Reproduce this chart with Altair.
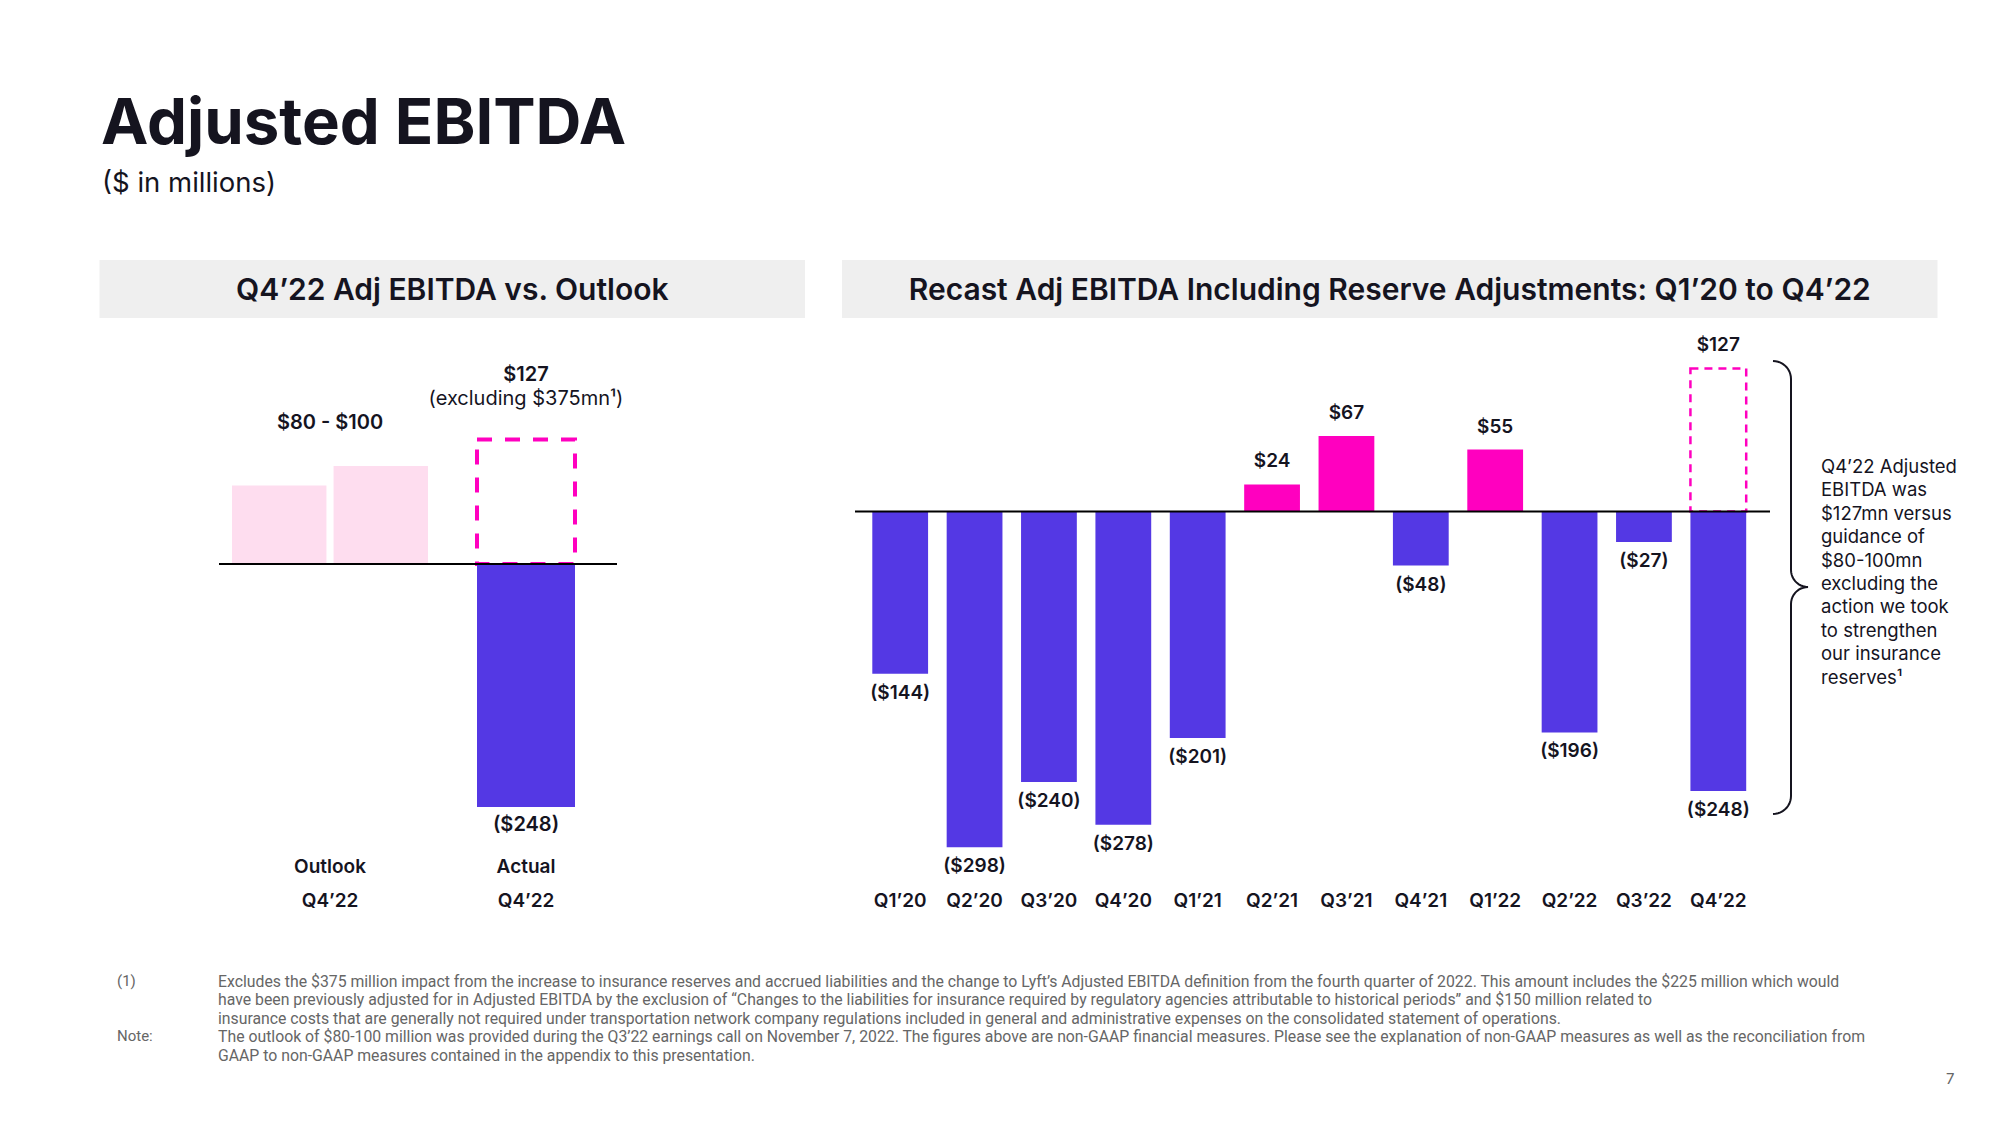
import altair as alt
import pandas as pd
import numpy as np

# ---------------- data ----------------
quarters = ["Q1’20", "Q2’20", "Q3’20", "Q4’20", "Q1’21", "Q2’21",
            "Q3’21", "Q4’21", "Q1’22", "Q2’22", "Q3’22", "Q4’22"]
recast_values = [-144, -298, -240, -278, -201, 24, 67, -48, 55, -196, -27, -248]
q4_excluding_value = 127

outlook_groups = ["Outlook", "Actual"]
outlook_periods = ["Q4’22", "Q4’22"]
outlook_parts = ["low", "high"]
outlook_values = [80, 100]
actual_value = -248
actual_excluding_value = 127

annotation_lines = ["Q4’22 Adjusted", "EBITDA was", "$127mn versus", "guidance of",
                    "$80-100mn", "excluding the", "action we took", "to strengthen",
                    "our insurance", "reserves¹"]

footnote_lines = [
    "Excludes the $375 million impact from the increase to insurance reserves and accrued liabilities and the change to Lyft’s Adjusted EBITDA definition from the fourth quarter of 2022. This amount includes the $225 million which would",
    "have been previously adjusted for in Adjusted EBITDA by the exclusion of “Changes to the liabilities for insurance required by regulatory agencies attributable to historical periods” and $150 million related to",
    "insurance costs that are generally not required under transportation network company regulations included in general and administrative expenses on the consolidated statement of operations.",
    "The outlook of $80-100 million was provided during the Q3’22 earnings call on November 7, 2022. The figures above are non-GAAP financial measures. Please see the explanation of non-GAAP measures as well as the reconciliation from",
    "GAAP to non-GAAP measures contained in the appendix to this presentation.",
]

# ---------------- style ----------------
PURPLE = "#5438E4"
MAGENTA = "#FF00BF"
PINK = "#FEDDEF"
HEADER = "#EFEFEF"
INK = "#15141F"
NOTE = "#666666"
FONT = "Inter"


def money(v):
    return f"${v}" if v >= 0 else f"(${-v})"


one = pd.DataFrame({"k": [0]})

# ---------------- scales ----------------
def rx(field="quarter"):
    return alt.X(f"{field}:N", sort=quarters,
                 scale=alt.Scale(domain=quarters, range=[855, 1747.5],
                                 paddingInner=0.25, paddingOuter=0.125), axis=None)


RY_SCALE = alt.Scale(domain=[-300, 130], range=[841.6, 357], zero=False, nice=False)


def ry(field="value"):
    return alt.Y(f"{field}:Q", scale=RY_SCALE, axis=None)


def lx(field="group"):
    return alt.X(f"{field}:N", sort=outlook_groups,
                 scale=alt.Scale(domain=outlook_groups, range=[224, 616],
                                 paddingInner=0, paddingOuter=0), axis=None)


LY_SCALE = alt.Scale(domain=[-260, 140], range=[810.8, 418.8], zero=False, nice=False)


def ly(field="value"):
    return alt.Y(f"{field}:Q", scale=LY_SCALE, axis=None)


layers = []

# ---------------- headings ----------------
layers.append(alt.Chart(one).mark_text(font=FONT, fontSize=63.5, fontWeight="bold", color=INK,
                                       align="left", baseline="alphabetic").encode(
    x=alt.value(93), y=alt.value(136), text=alt.value("Adjusted EBITDA")))
layers.append(alt.Chart(one).mark_text(font=FONT, fontSize=27.5, color=INK,
                                       align="left", baseline="alphabetic").encode(
    x=alt.value(94), y=alt.value(184), text=alt.value("($ in millions)")))

for x0, x1, title in [(91.5, 797, "Q4’22 Adj EBITDA vs. Outlook"),
                      (834, 1929.5, "Recast Adj EBITDA Including Reserve Adjustments: Q1’20 to Q4’22")]:
    layers.append(alt.Chart(one).mark_rect(color=HEADER).encode(
        x=alt.value(x0), x2=alt.value(x1), y=alt.value(252), y2=alt.value(310)))
    layers.append(alt.Chart(one).mark_text(font=FONT, fontSize=30, fontWeight=600, color=INK,
                                           align="center", baseline="middle").encode(
        x=alt.value((x0 + x1) / 2), y=alt.value(283), text=alt.value(title)))

# ---------------- left panel ----------------
outlook_df = pd.DataFrame({"group": "Outlook", "part": outlook_parts, "value": outlook_values})
layers.append(alt.Chart(outlook_df).mark_bar(color=PINK).encode(
    x=lx(), y=ly(), y2=alt.datum(0),
    xOffset=alt.XOffset("part:N", sort=outlook_parts,
                        scale=alt.Scale(domain=outlook_parts, paddingInner=0.07, paddingOuter=0))))

dashed_left = pd.DataFrame({"group": ["Actual"], "value": [actual_excluding_value]})
layers.append(alt.Chart(dashed_left).mark_bar(fillOpacity=0, stroke=MAGENTA, strokeWidth=4,
                                             strokeDash=[15, 13], width=alt.RelativeBandSize(0.5)).encode(
    x=lx(), y=ly(), y2=alt.datum(0)))

actual_df = pd.DataFrame({"group": ["Actual"], "value": [actual_value]})
layers.append(alt.Chart(actual_df).mark_bar(color=PURPLE, width=alt.RelativeBandSize(0.5)).encode(
    x=lx(), y=ly(), y2=alt.datum(0)))

layers.append(alt.Chart(one).mark_rule(color="black", strokeWidth=2).encode(
    x=alt.value(211), x2=alt.value(609), y=alt.YDatum(0, scale=LY_SCALE, axis=None)))

range_df = pd.DataFrame({"group": ["Outlook"], "value": [max(outlook_values)],
                         "label": [f"${outlook_values[0]} - ${outlook_values[1]}"]})
layers.append(alt.Chart(range_df).mark_text(font=FONT, fontSize=20, fontWeight=600, color=INK,
                                           baseline="middle", dy=-43).encode(
    x=lx(), y=ly(), text="label:N"))

exc_df = pd.DataFrame({"group": ["Actual"], "value": [actual_excluding_value],
                       "label": [money(actual_excluding_value)]})
layers.append(alt.Chart(exc_df).mark_text(font=FONT, fontSize=20, fontWeight=600, color=INK,
                                         baseline="middle", dy=-65).encode(
    x=lx(), y=ly(), text="label:N"))
layers.append(alt.Chart(exc_df).mark_text(font=FONT, fontSize=20, color=INK,
                                         baseline="middle", dy=-41).encode(
    x=lx(), y=ly(), text=alt.value("(excluding $375mn¹)")))

act_lbl = pd.DataFrame({"group": ["Actual"], "value": [actual_value], "label": [money(actual_value)]})
layers.append(alt.Chart(act_lbl).mark_text(font=FONT, fontSize=20, fontWeight=600, color=INK,
                                          baseline="middle", dy=18).encode(
    x=lx(), y=ly(), text="label:N"))

cat_df = pd.DataFrame({"group": outlook_groups, "period": outlook_periods})
layers.append(alt.Chart(cat_df).mark_text(font=FONT, fontSize=19, fontWeight=600, color=INK,
                                         baseline="middle").encode(
    x=lx(), y=alt.value(859), text="group:N"))
layers.append(alt.Chart(cat_df).mark_text(font=FONT, fontSize=19, fontWeight=600, color=INK,
                                         baseline="middle").encode(
    x=lx(), y=alt.value(892.5), text="period:N"))

# ---------------- right panel ----------------
right_df = pd.DataFrame({"quarter": quarters, "value": recast_values})
right_df["color"] = np.where(right_df["value"] > 0, MAGENTA, PURPLE)
right_df["label"] = [money(v) for v in recast_values]

dashed_right = pd.DataFrame({"quarter": [quarters[-1]], "value": [q4_excluding_value],
                             "label": [money(q4_excluding_value)]})
layers.append(alt.Chart(dashed_right).mark_bar(fillOpacity=0, stroke=MAGENTA, strokeWidth=2.5,
                                              strokeDash=[8, 6]).encode(
    x=rx(), y=ry(), y2=alt.datum(0)))

layers.append(alt.Chart(right_df).mark_bar().encode(
    x=rx(), y=ry(), y2=alt.datum(0), color=alt.Color("color:N", scale=None)))

layers.append(alt.Chart(one).mark_rule(color="black", strokeWidth=2).encode(
    x=alt.value(847), x2=alt.value(1762), y=alt.YDatum(0, scale=RY_SCALE, axis=None)))

pos_df = pd.concat([right_df[right_df["value"] > 0], dashed_right])
neg_df = right_df[right_df["value"] < 0]
layers.append(alt.Chart(pos_df).mark_text(font=FONT, fontSize=19, fontWeight=600, color=INK,
                                         baseline="middle", dy=-23).encode(
    x=rx(), y=ry(), text="label:N"))
layers.append(alt.Chart(neg_df).mark_text(font=FONT, fontSize=19, fontWeight=600, color=INK,
                                         baseline="middle", dy=19).encode(
    x=rx(), y=ry(), text="label:N"))

layers.append(alt.Chart(right_df).mark_text(font=FONT, fontSize=19, fontWeight=600, color=INK,
                                           baseline="middle").encode(
    x=rx(), y=alt.value(892.5), text="quarter:N"))

# brace (decoration)
def arc(cx, cy, r, a0, a1, n=12):
    t = np.radians(np.linspace(a0, a1, n))
    return list(cx + r * np.cos(t)), list(cy + r * np.sin(t))

bx, by = [], []
for seg in [arc(1765, 371, 18, -90, 0), arc(1800, 562, 17, 180, 90),
            arc(1800, 596, 17, 270, 180), arc(1765, 788, 18, 0, 90)]:
    bx += seg[0]
    by += seg[1]
brace = pd.DataFrame({"bx": bx, "by": by, "i": range(len(bx))})
layers.append(alt.Chart(brace).mark_line(color=INK, strokeWidth=2).encode(
    x=alt.X("bx:Q", scale=None, axis=None), y=alt.Y("by:Q", scale=None, axis=None),
    order="i:Q"))

layers.append(alt.Chart(one).mark_text(font=FONT, fontSize=18.5, color=INK, align="left",
                                      baseline="top", lineHeight=23.4).encode(
    x=alt.value(1813), y=alt.value(450), text=alt.value(annotation_lines)))

# ---------------- footnotes ----------------
layers.append(alt.Chart(one).mark_text(font="Roboto", fontSize=15, color=NOTE, align="left",
                                      baseline="middle").encode(
    x=alt.value(109), y=alt.value(973), text=alt.value("(1)")))
layers.append(alt.Chart(one).mark_text(font="Roboto", fontSize=15, color=NOTE, align="left",
                                      baseline="middle").encode(
    x=alt.value(109), y=alt.value(1028), text=alt.value("Note:")))
layers.append(alt.Chart(one).mark_text(font="Roboto", fontSize=15.8, color=NOTE, align="left",
                                      baseline="top", lineHeight=18.4).encode(
    x=alt.value(210), y=alt.value(967), text=alt.value(footnote_lines)))
layers.append(alt.Chart(one).mark_text(font=FONT, fontSize=15, color=NOTE, align="left",
                                      baseline="middle").encode(
    x=alt.value(1938), y=alt.value(1071), text=alt.value("7")))

chart = alt.layer(*layers).resolve_scale(x="independent", y="independent").properties(
    width=1984, height=1100, padding=0, autosize=alt.AutoSizeParams(type="none"),
    background="white"
).configure_view(stroke=None)

chart.save("out.html", embed_options={"renderer": "svg", "actions": False})
